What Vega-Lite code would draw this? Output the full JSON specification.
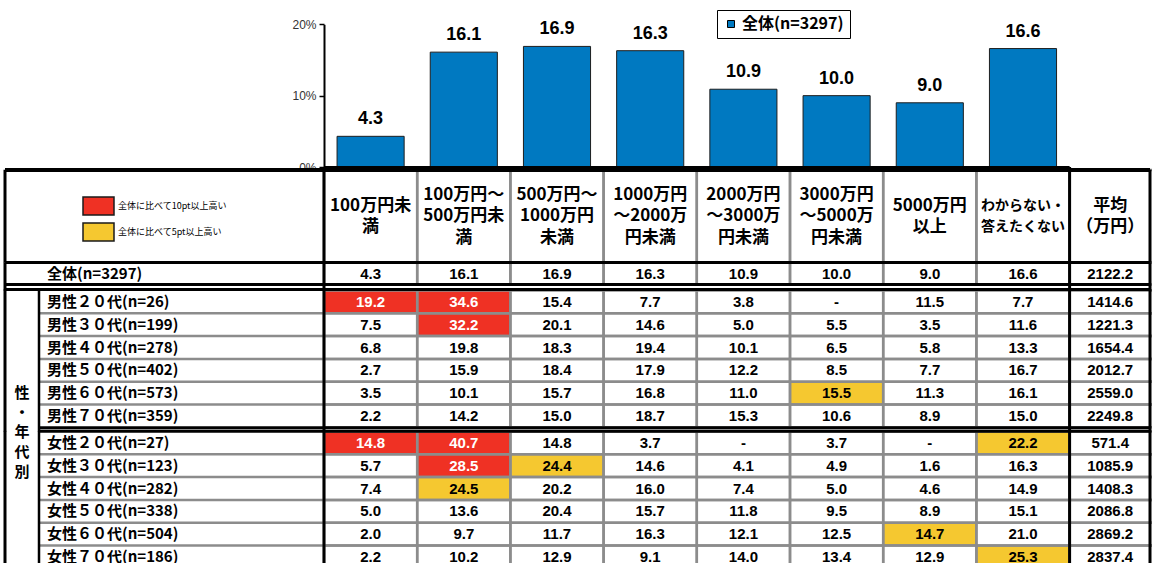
{
  "$schema": "https://vega.github.io/schema/vega-lite/v6.json",
  "width": 1152,
  "height": 563,
  "autosize": "none",
  "padding": 0,
  "background": "white",
  "config": {"view": {"stroke": null}},
  "datasets": {
    "heads": [
      {"c": "100万円未満", "t": ["100万円未", "満"]},
      {"c": "100万円～500万円未満", "t": ["100万円～", "500万円未", "満"]},
      {"c": "500万円～1000万円未満", "t": ["500万円～", "1000万円", "未満"]},
      {"c": "1000万円～2000万円未満", "t": ["1000万円", "～2000万", "円未満"]},
      {"c": "2000万円～3000万円未満", "t": ["2000万円", "～3000万", "円未満"]},
      {"c": "3000万円～5000万円未満", "t": ["3000万円", "～5000万", "円未満"]},
      {"c": "5000万円以上", "t": ["5000万円", "以上"]},
      {"c": "わからない・答えたくない", "t": ["わからない・", "答えたくない"]},
      {"c": "平均（万円）", "t": ["平均", "（万円）"]}
    ],
    "groups": [{"g": "性\n・\n年\n代\n別"}],
    "cells": [
      {"s": "a", "r": "全体(n=3297)", "c": "100万円未満", "v": 4.3},
      {"s": "a", "r": "全体(n=3297)", "c": "100万円～500万円未満", "v": 16.1},
      {"s": "a", "r": "全体(n=3297)", "c": "500万円～1000万円未満", "v": 16.9},
      {"s": "a", "r": "全体(n=3297)", "c": "1000万円～2000万円未満", "v": 16.3},
      {"s": "a", "r": "全体(n=3297)", "c": "2000万円～3000万円未満", "v": 10.9},
      {"s": "a", "r": "全体(n=3297)", "c": "3000万円～5000万円未満", "v": 10.0},
      {"s": "a", "r": "全体(n=3297)", "c": "5000万円以上", "v": 9.0},
      {"s": "a", "r": "全体(n=3297)", "c": "わからない・答えたくない", "v": 16.6},
      {"s": "a", "r": "全体(n=3297)", "c": "平均（万円）", "v": 2122.2},
      {"s": "m", "r": "男性２０代(n=26)", "c": "100万円未満", "v": 19.2, "h": "全体に比べて10pt以上高い"},
      {"s": "m", "r": "男性２０代(n=26)", "c": "100万円～500万円未満", "v": 34.6, "h": "全体に比べて10pt以上高い"},
      {"s": "m", "r": "男性２０代(n=26)", "c": "500万円～1000万円未満", "v": 15.4},
      {"s": "m", "r": "男性２０代(n=26)", "c": "1000万円～2000万円未満", "v": 7.7},
      {"s": "m", "r": "男性２０代(n=26)", "c": "2000万円～3000万円未満", "v": 3.8},
      {"s": "m", "r": "男性２０代(n=26)", "c": "3000万円～5000万円未満", "v": null},
      {"s": "m", "r": "男性２０代(n=26)", "c": "5000万円以上", "v": 11.5},
      {"s": "m", "r": "男性２０代(n=26)", "c": "わからない・答えたくない", "v": 7.7},
      {"s": "m", "r": "男性２０代(n=26)", "c": "平均（万円）", "v": 1414.6},
      {"s": "m", "r": "男性３０代(n=199)", "c": "100万円未満", "v": 7.5},
      {"s": "m", "r": "男性３０代(n=199)", "c": "100万円～500万円未満", "v": 32.2, "h": "全体に比べて10pt以上高い"},
      {"s": "m", "r": "男性３０代(n=199)", "c": "500万円～1000万円未満", "v": 20.1},
      {"s": "m", "r": "男性３０代(n=199)", "c": "1000万円～2000万円未満", "v": 14.6},
      {"s": "m", "r": "男性３０代(n=199)", "c": "2000万円～3000万円未満", "v": 5.0},
      {"s": "m", "r": "男性３０代(n=199)", "c": "3000万円～5000万円未満", "v": 5.5},
      {"s": "m", "r": "男性３０代(n=199)", "c": "5000万円以上", "v": 3.5},
      {"s": "m", "r": "男性３０代(n=199)", "c": "わからない・答えたくない", "v": 11.6},
      {"s": "m", "r": "男性３０代(n=199)", "c": "平均（万円）", "v": 1221.3},
      {"s": "m", "r": "男性４０代(n=278)", "c": "100万円未満", "v": 6.8},
      {"s": "m", "r": "男性４０代(n=278)", "c": "100万円～500万円未満", "v": 19.8},
      {"s": "m", "r": "男性４０代(n=278)", "c": "500万円～1000万円未満", "v": 18.3},
      {"s": "m", "r": "男性４０代(n=278)", "c": "1000万円～2000万円未満", "v": 19.4},
      {"s": "m", "r": "男性４０代(n=278)", "c": "2000万円～3000万円未満", "v": 10.1},
      {"s": "m", "r": "男性４０代(n=278)", "c": "3000万円～5000万円未満", "v": 6.5},
      {"s": "m", "r": "男性４０代(n=278)", "c": "5000万円以上", "v": 5.8},
      {"s": "m", "r": "男性４０代(n=278)", "c": "わからない・答えたくない", "v": 13.3},
      {"s": "m", "r": "男性４０代(n=278)", "c": "平均（万円）", "v": 1654.4},
      {"s": "m", "r": "男性５０代(n=402)", "c": "100万円未満", "v": 2.7},
      {"s": "m", "r": "男性５０代(n=402)", "c": "100万円～500万円未満", "v": 15.9},
      {"s": "m", "r": "男性５０代(n=402)", "c": "500万円～1000万円未満", "v": 18.4},
      {"s": "m", "r": "男性５０代(n=402)", "c": "1000万円～2000万円未満", "v": 17.9},
      {"s": "m", "r": "男性５０代(n=402)", "c": "2000万円～3000万円未満", "v": 12.2},
      {"s": "m", "r": "男性５０代(n=402)", "c": "3000万円～5000万円未満", "v": 8.5},
      {"s": "m", "r": "男性５０代(n=402)", "c": "5000万円以上", "v": 7.7},
      {"s": "m", "r": "男性５０代(n=402)", "c": "わからない・答えたくない", "v": 16.7},
      {"s": "m", "r": "男性５０代(n=402)", "c": "平均（万円）", "v": 2012.7},
      {"s": "m", "r": "男性６０代(n=573)", "c": "100万円未満", "v": 3.5},
      {"s": "m", "r": "男性６０代(n=573)", "c": "100万円～500万円未満", "v": 10.1},
      {"s": "m", "r": "男性６０代(n=573)", "c": "500万円～1000万円未満", "v": 15.7},
      {"s": "m", "r": "男性６０代(n=573)", "c": "1000万円～2000万円未満", "v": 16.8},
      {"s": "m", "r": "男性６０代(n=573)", "c": "2000万円～3000万円未満", "v": 11.0},
      {"s": "m", "r": "男性６０代(n=573)", "c": "3000万円～5000万円未満", "v": 15.5, "h": "全体に比べて5pt以上高い"},
      {"s": "m", "r": "男性６０代(n=573)", "c": "5000万円以上", "v": 11.3},
      {"s": "m", "r": "男性６０代(n=573)", "c": "わからない・答えたくない", "v": 16.1},
      {"s": "m", "r": "男性６０代(n=573)", "c": "平均（万円）", "v": 2559.0},
      {"s": "m", "r": "男性７０代(n=359)", "c": "100万円未満", "v": 2.2},
      {"s": "m", "r": "男性７０代(n=359)", "c": "100万円～500万円未満", "v": 14.2},
      {"s": "m", "r": "男性７０代(n=359)", "c": "500万円～1000万円未満", "v": 15.0},
      {"s": "m", "r": "男性７０代(n=359)", "c": "1000万円～2000万円未満", "v": 18.7},
      {"s": "m", "r": "男性７０代(n=359)", "c": "2000万円～3000万円未満", "v": 15.3},
      {"s": "m", "r": "男性７０代(n=359)", "c": "3000万円～5000万円未満", "v": 10.6},
      {"s": "m", "r": "男性７０代(n=359)", "c": "5000万円以上", "v": 8.9},
      {"s": "m", "r": "男性７０代(n=359)", "c": "わからない・答えたくない", "v": 15.0},
      {"s": "m", "r": "男性７０代(n=359)", "c": "平均（万円）", "v": 2249.8},
      {"s": "f", "r": "女性２０代(n=27)", "c": "100万円未満", "v": 14.8, "h": "全体に比べて10pt以上高い"},
      {"s": "f", "r": "女性２０代(n=27)", "c": "100万円～500万円未満", "v": 40.7, "h": "全体に比べて10pt以上高い"},
      {"s": "f", "r": "女性２０代(n=27)", "c": "500万円～1000万円未満", "v": 14.8},
      {"s": "f", "r": "女性２０代(n=27)", "c": "1000万円～2000万円未満", "v": 3.7},
      {"s": "f", "r": "女性２０代(n=27)", "c": "2000万円～3000万円未満", "v": null},
      {"s": "f", "r": "女性２０代(n=27)", "c": "3000万円～5000万円未満", "v": 3.7},
      {"s": "f", "r": "女性２０代(n=27)", "c": "5000万円以上", "v": null},
      {"s": "f", "r": "女性２０代(n=27)", "c": "わからない・答えたくない", "v": 22.2, "h": "全体に比べて5pt以上高い"},
      {"s": "f", "r": "女性２０代(n=27)", "c": "平均（万円）", "v": 571.4},
      {"s": "f", "r": "女性３０代(n=123)", "c": "100万円未満", "v": 5.7},
      {"s": "f", "r": "女性３０代(n=123)", "c": "100万円～500万円未満", "v": 28.5, "h": "全体に比べて10pt以上高い"},
      {"s": "f", "r": "女性３０代(n=123)", "c": "500万円～1000万円未満", "v": 24.4, "h": "全体に比べて5pt以上高い"},
      {"s": "f", "r": "女性３０代(n=123)", "c": "1000万円～2000万円未満", "v": 14.6},
      {"s": "f", "r": "女性３０代(n=123)", "c": "2000万円～3000万円未満", "v": 4.1},
      {"s": "f", "r": "女性３０代(n=123)", "c": "3000万円～5000万円未満", "v": 4.9},
      {"s": "f", "r": "女性３０代(n=123)", "c": "5000万円以上", "v": 1.6},
      {"s": "f", "r": "女性３０代(n=123)", "c": "わからない・答えたくない", "v": 16.3},
      {"s": "f", "r": "女性３０代(n=123)", "c": "平均（万円）", "v": 1085.9},
      {"s": "f", "r": "女性４０代(n=282)", "c": "100万円未満", "v": 7.4},
      {"s": "f", "r": "女性４０代(n=282)", "c": "100万円～500万円未満", "v": 24.5, "h": "全体に比べて5pt以上高い"},
      {"s": "f", "r": "女性４０代(n=282)", "c": "500万円～1000万円未満", "v": 20.2},
      {"s": "f", "r": "女性４０代(n=282)", "c": "1000万円～2000万円未満", "v": 16.0},
      {"s": "f", "r": "女性４０代(n=282)", "c": "2000万円～3000万円未満", "v": 7.4},
      {"s": "f", "r": "女性４０代(n=282)", "c": "3000万円～5000万円未満", "v": 5.0},
      {"s": "f", "r": "女性４０代(n=282)", "c": "5000万円以上", "v": 4.6},
      {"s": "f", "r": "女性４０代(n=282)", "c": "わからない・答えたくない", "v": 14.9},
      {"s": "f", "r": "女性４０代(n=282)", "c": "平均（万円）", "v": 1408.3},
      {"s": "f", "r": "女性５０代(n=338)", "c": "100万円未満", "v": 5.0},
      {"s": "f", "r": "女性５０代(n=338)", "c": "100万円～500万円未満", "v": 13.6},
      {"s": "f", "r": "女性５０代(n=338)", "c": "500万円～1000万円未満", "v": 20.4},
      {"s": "f", "r": "女性５０代(n=338)", "c": "1000万円～2000万円未満", "v": 15.7},
      {"s": "f", "r": "女性５０代(n=338)", "c": "2000万円～3000万円未満", "v": 11.8},
      {"s": "f", "r": "女性５０代(n=338)", "c": "3000万円～5000万円未満", "v": 9.5},
      {"s": "f", "r": "女性５０代(n=338)", "c": "5000万円以上", "v": 8.9},
      {"s": "f", "r": "女性５０代(n=338)", "c": "わからない・答えたくない", "v": 15.1},
      {"s": "f", "r": "女性５０代(n=338)", "c": "平均（万円）", "v": 2086.8},
      {"s": "f", "r": "女性６０代(n=504)", "c": "100万円未満", "v": 2.0},
      {"s": "f", "r": "女性６０代(n=504)", "c": "100万円～500万円未満", "v": 9.7},
      {"s": "f", "r": "女性６０代(n=504)", "c": "500万円～1000万円未満", "v": 11.7},
      {"s": "f", "r": "女性６０代(n=504)", "c": "1000万円～2000万円未満", "v": 16.3},
      {"s": "f", "r": "女性６０代(n=504)", "c": "2000万円～3000万円未満", "v": 12.1},
      {"s": "f", "r": "女性６０代(n=504)", "c": "3000万円～5000万円未満", "v": 12.5},
      {"s": "f", "r": "女性６０代(n=504)", "c": "5000万円以上", "v": 14.7, "h": "全体に比べて5pt以上高い"},
      {"s": "f", "r": "女性６０代(n=504)", "c": "わからない・答えたくない", "v": 21.0},
      {"s": "f", "r": "女性６０代(n=504)", "c": "平均（万円）", "v": 2869.2},
      {"s": "f", "r": "女性７０代(n=186)", "c": "100万円未満", "v": 2.2},
      {"s": "f", "r": "女性７０代(n=186)", "c": "100万円～500万円未満", "v": 10.2},
      {"s": "f", "r": "女性７０代(n=186)", "c": "500万円～1000万円未満", "v": 12.9},
      {"s": "f", "r": "女性７０代(n=186)", "c": "1000万円～2000万円未満", "v": 9.1},
      {"s": "f", "r": "女性７０代(n=186)", "c": "2000万円～3000万円未満", "v": 14.0},
      {"s": "f", "r": "女性７０代(n=186)", "c": "3000万円～5000万円未満", "v": 13.4},
      {"s": "f", "r": "女性７０代(n=186)", "c": "5000万円以上", "v": 12.9},
      {"s": "f", "r": "女性７０代(n=186)", "c": "わからない・答えたくない", "v": 25.3, "h": "全体に比べて5pt以上高い"},
      {"s": "f", "r": "女性７０代(n=186)", "c": "平均（万円）", "v": 2837.4}
    ]
  },
  "resolve": {"scale": {"y": "independent"}},
  "layer": [
    {
      "data": {"name": "cells"},
      "transform": [{"filter": "datum.s === 'a' && datum.c !== '平均（万円）'"}],
      "encoding": {
        "x": {"field": "c", "type": "nominal", "axis": null, "scale": {"domain": ["100万円未満", "100万円～500万円未満", "500万円～1000万円未満", "1000万円～2000万円未満", "2000万円～3000万円未満", "3000万円～5000万円未満", "5000万円以上", "わからない・答えたくない", "平均（万円）"], "range": [324, 1162.8], "paddingInner": 0, "paddingOuter": 0}},
        "y": {"field": "v", "type": "quantitative", "scale": {"domain": [0, 20], "range": [167, 24.3], "nice": false, "zero": false},
          "axis": {"orient": "left", "offset": -324, "values": [0, 10, 20], "labelExpr": "datum.value + '%'", "domainColor": "black", "domainWidth": 2, "tickColor": "black", "tickWidth": 1.5, "tickSize": 5, "labelFont": "Liberation Sans", "labelFontSize": 12, "labelColor": "#333333", "labelPadding": 3, "grid": false, "title": null, "labelBound": false, "labelFlush": false, "labelOverlap": false}}
      },
      "layer": [
        {
          "mark": {"type": "bar", "width": {"band": 0.72}, "stroke": "#1e1e1e", "strokeWidth": 1},
          "encoding": {
            "color": {"field": "r", "type": "nominal", "scale": {"range": ["#0079c1"]},
              "legend": {"orient": "none", "legendX": 717, "legendY": 10, "title": null, "padding": 6, "strokeColor": "black", "symbolType": "square", "symbolSize": 49, "symbolStrokeColor": "black", "symbolStrokeWidth": 1, "labelFont": "Noto Sans CJK JP", "labelFontSize": 16, "labelFontWeight": "bold", "labelColor": "black", "labelOffset": 3}}
          }
        },
        {
          "mark": {"type": "text", "font": "Liberation Sans", "fontSize": 18, "fontWeight": "bold", "baseline": "middle", "dy": -17, "color": "black"},
          "encoding": {"text": {"field": "v", "type": "quantitative", "format": ".1f"}}
        }
      ]
    },
    {
      "data": {"name": "heads"},
      "mark": {"type": "rect", "filled": false, "stroke": "#8c8c8c", "strokeWidth": 2.5},
      "encoding": {
        "x": {"field": "c", "type": "nominal", "axis": null, "scale": {"domain": ["100万円未満", "100万円～500万円未満", "500万円～1000万円未満", "1000万円～2000万円未満", "2000万円～3000万円未満", "3000万円～5000万円未満", "5000万円以上", "わからない・答えたくない", "平均（万円）"], "range": [324, 1162.8], "paddingInner": 0, "paddingOuter": 0}},
        "y": {"datum": "head", "type": "nominal", "axis": null, "scale": {"domain": ["head"], "range": [170, 262.5], "paddingInner": 0, "paddingOuter": 0}}
      }
    },
    {
      "data": {"name": "cells"},
      "transform": [{"filter": "datum.s === 'a'"}],
      "mark": {"type": "rect", "filled": false, "stroke": "#8c8c8c", "strokeWidth": 2.5},
      "encoding": {
        "x": {"field": "c", "type": "nominal", "axis": null, "scale": {"domain": ["100万円未満", "100万円～500万円未満", "500万円～1000万円未満", "1000万円～2000万円未満", "2000万円～3000万円未満", "3000万円～5000万円未満", "5000万円以上", "わからない・答えたくない", "平均（万円）"], "range": [324, 1162.8], "paddingInner": 0, "paddingOuter": 0}},
        "y": {"field": "r", "type": "nominal", "axis": null, "scale": {"domain": ["全体(n=3297)"], "range": [262.5, 284.5], "paddingInner": 0, "paddingOuter": 0}}
      }
    },
    {
      "data": {"name": "cells"},
      "transform": [{"filter": "datum.s === 'm' && datum.h"}],
      "mark": {"type": "rect"},
      "encoding": {
        "x": {"field": "c", "type": "nominal", "axis": null, "scale": {"domain": ["100万円未満", "100万円～500万円未満", "500万円～1000万円未満", "1000万円～2000万円未満", "2000万円～3000万円未満", "3000万円～5000万円未満", "5000万円以上", "わからない・答えたくない", "平均（万円）"], "range": [324, 1162.8], "paddingInner": 0, "paddingOuter": 0}},
        "y": {"field": "r", "type": "nominal", "axis": null, "scale": {"domain": ["男性２０代(n=26)", "男性３０代(n=199)", "男性４０代(n=278)", "男性５０代(n=402)", "男性６０代(n=573)", "男性７０代(n=359)"], "range": [290.5, 427.3], "paddingInner": 0, "paddingOuter": 0}},
        "fill": {"field": "h", "type": "nominal", "scale": {"domain": ["全体に比べて10pt以上高い", "全体に比べて5pt以上高い"], "range": ["#ef3124", "#f5c830"]},
          "legend": {"orient": "none", "legendX": 82, "legendY": 196, "title": null, "padding": 0, "symbolType": "M-1,-0.58H1V0.58H-1Z", "symbolSize": 961, "symbolStrokeColor": "#1a1a1a", "symbolStrokeWidth": 1.5, "symbolOpacity": 1, "labelFont": "Noto Sans CJK JP", "labelFontSize": 9, "labelColor": "black", "labelOffset": 3, "clipHeight": 20, "rowPadding": 6, "labelLimit": 200}}
      }
    },
    {
      "data": {"name": "cells"},
      "transform": [{"filter": "datum.s === 'm'"}],
      "mark": {"type": "rect", "filled": false, "stroke": "#8c8c8c", "strokeWidth": 2.5},
      "encoding": {
        "x": {"field": "c", "type": "nominal", "axis": null, "scale": {"domain": ["100万円未満", "100万円～500万円未満", "500万円～1000万円未満", "1000万円～2000万円未満", "2000万円～3000万円未満", "3000万円～5000万円未満", "5000万円以上", "わからない・答えたくない", "平均（万円）"], "range": [324, 1162.8], "paddingInner": 0, "paddingOuter": 0}},
        "y": {"field": "r", "type": "nominal", "axis": null, "scale": {"domain": ["男性２０代(n=26)", "男性３０代(n=199)", "男性４０代(n=278)", "男性５０代(n=402)", "男性６０代(n=573)", "男性７０代(n=359)"], "range": [290.5, 427.3], "paddingInner": 0, "paddingOuter": 0}}
      }
    },
    {
      "data": {"name": "cells"},
      "transform": [{"filter": "datum.s === 'f' && datum.h"}],
      "mark": {"type": "rect"},
      "encoding": {
        "x": {"field": "c", "type": "nominal", "axis": null, "scale": {"domain": ["100万円未満", "100万円～500万円未満", "500万円～1000万円未満", "1000万円～2000万円未満", "2000万円～3000万円未満", "3000万円～5000万円未満", "5000万円以上", "わからない・答えたくない", "平均（万円）"], "range": [324, 1162.8], "paddingInner": 0, "paddingOuter": 0}},
        "y": {"field": "r", "type": "nominal", "axis": null, "scale": {"domain": ["女性２０代(n=27)", "女性３０代(n=123)", "女性４０代(n=282)", "女性５０代(n=338)", "女性６０代(n=504)", "女性７０代(n=186)"], "range": [431.5, 568.3], "paddingInner": 0, "paddingOuter": 0}},
        "fill": {"field": "h", "type": "nominal", "scale": {"domain": ["全体に比べて10pt以上高い", "全体に比べて5pt以上高い"], "range": ["#ef3124", "#f5c830"]},
          "legend": {"orient": "none", "legendX": 82, "legendY": 196, "title": null, "padding": 0, "symbolType": "M-1,-0.58H1V0.58H-1Z", "symbolSize": 961, "symbolStrokeColor": "#1a1a1a", "symbolStrokeWidth": 1.5, "symbolOpacity": 1, "labelFont": "Noto Sans CJK JP", "labelFontSize": 9, "labelColor": "black", "labelOffset": 3, "clipHeight": 20, "rowPadding": 6, "labelLimit": 200}}
      }
    },
    {
      "data": {"name": "cells"},
      "transform": [{"filter": "datum.s === 'f'"}],
      "mark": {"type": "rect", "filled": false, "stroke": "#8c8c8c", "strokeWidth": 2.5},
      "encoding": {
        "x": {"field": "c", "type": "nominal", "axis": null, "scale": {"domain": ["100万円未満", "100万円～500万円未満", "500万円～1000万円未満", "1000万円～2000万円未満", "2000万円～3000万円未満", "3000万円～5000万円未満", "5000万円以上", "わからない・答えたくない", "平均（万円）"], "range": [324, 1162.8], "paddingInner": 0, "paddingOuter": 0}},
        "y": {"field": "r", "type": "nominal", "axis": null, "scale": {"domain": ["女性２０代(n=27)", "女性３０代(n=123)", "女性４０代(n=282)", "女性５０代(n=338)", "女性６０代(n=504)", "女性７０代(n=186)"], "range": [431.5, 568.3], "paddingInner": 0, "paddingOuter": 0}}
      }
    },
    {
      "data": {"name": "cells"},
      "transform": [{"filter": "datum.s === 'm' && datum.c === '100万円未満' && datum.r !== '男性７０代(n=359)'"}],
      "mark": {"type": "tick", "orient": "horizontal", "size": 285, "thickness": 2.5, "color": "#8c8c8c", "opacity": 1, "xOffset": -189.1},
      "encoding": {
        "x": {"datum": "100万円未満", "type": "nominal", "bandPosition": 0.5, "axis": null},
        "y": {"field": "r", "type": "nominal", "bandPosition": 1, "axis": null, "scale": {"domain": ["男性２０代(n=26)", "男性３０代(n=199)", "男性４０代(n=278)", "男性５０代(n=402)", "男性６０代(n=573)", "男性７０代(n=359)"], "range": [290.5, 427.3], "paddingInner": 0, "paddingOuter": 0}}
      }
    },
    {
      "data": {"name": "cells"},
      "transform": [{"filter": "datum.s === 'f' && datum.c === '100万円未満' && datum.r !== '女性７０代(n=186)'"}],
      "mark": {"type": "tick", "orient": "horizontal", "size": 285, "thickness": 2.5, "color": "#8c8c8c", "opacity": 1, "xOffset": -189.1},
      "encoding": {
        "x": {"datum": "100万円未満", "type": "nominal", "bandPosition": 0.5, "axis": null},
        "y": {"field": "r", "type": "nominal", "bandPosition": 1, "axis": null, "scale": {"domain": ["女性２０代(n=27)", "女性３０代(n=123)", "女性４０代(n=282)", "女性５０代(n=338)", "女性６０代(n=504)", "女性７０代(n=186)"], "range": [431.5, 568.3], "paddingInner": 0, "paddingOuter": 0}}
      }
    },
    {
      "data": {"name": "heads"},
      "transform": [{"filter": "datum.c === '100万円未満'"}],
      "mark": {"type": "tick", "orient": "horizontal", "size": 745.6, "thickness": 3, "color": "black", "opacity": 1, "xOffset": -46.6, "yOffset": 0.5},
      "encoding": {
        "x": {"datum": "2000万円～3000万円未満", "type": "nominal", "bandPosition": 0.5, "axis": null},
        "y": {"datum": 0, "type": "quantitative", "axis": null, "scale": {"domain": [0, 20], "range": [167, 24.3], "nice": false, "zero": false}}
      }
    },
    {
      "data": {"name": "heads"},
      "transform": [{"filter": "datum.c === '100万円未満'"}],
      "mark": {"type": "tick", "orient": "horizontal", "size": 1145, "thickness": 4, "color": "black", "opacity": 1, "xOffset": 206.9},
      "encoding": {
        "x": {"datum": "100万円未満", "type": "nominal", "bandPosition": 0.5, "axis": null},
        "y": {"datum": "head", "type": "nominal", "bandPosition": 0, "axis": null, "scale": {"domain": ["head"], "range": [170, 262.5], "paddingInner": 0, "paddingOuter": 0}}
      }
    },
    {
      "data": {"name": "heads"},
      "transform": [{"filter": "datum.c === '100万円未満'"}],
      "mark": {"type": "tick", "orient": "horizontal", "size": 1145, "thickness": 3, "color": "black", "opacity": 1, "xOffset": 206.9},
      "encoding": {
        "x": {"datum": "100万円未満", "type": "nominal", "bandPosition": 0.5, "axis": null},
        "y": {"datum": "head", "type": "nominal", "bandPosition": 1, "axis": null, "scale": {"domain": ["head"], "range": [170, 262.5], "paddingInner": 0, "paddingOuter": 0}}
      }
    },
    {
      "data": {"name": "heads"},
      "transform": [{"filter": "datum.c === '100万円未満'"}],
      "mark": {"type": "tick", "orient": "horizontal", "size": 1145, "thickness": 3, "color": "black", "opacity": 1, "xOffset": 206.9},
      "encoding": {
        "x": {"datum": "100万円未満", "type": "nominal", "bandPosition": 0.5, "axis": null},
        "y": {"datum": "全体(n=3297)", "type": "nominal", "bandPosition": 1, "axis": null, "scale": {"domain": ["全体(n=3297)"], "range": [262.5, 284.5], "paddingInner": 0, "paddingOuter": 0}}
      }
    },
    {
      "data": {"name": "heads"},
      "transform": [{"filter": "datum.c === '100万円未満'"}],
      "mark": {"type": "tick", "orient": "horizontal", "size": 1145, "thickness": 3, "color": "black", "opacity": 1, "xOffset": 206.9, "yOffset": -1},
      "encoding": {
        "x": {"datum": "100万円未満", "type": "nominal", "bandPosition": 0.5, "axis": null},
        "y": {"datum": "男性２０代(n=26)", "type": "nominal", "bandPosition": 0, "axis": null, "scale": {"domain": ["男性２０代(n=26)", "男性３０代(n=199)", "男性４０代(n=278)", "男性５０代(n=402)", "男性６０代(n=573)", "男性７０代(n=359)"], "range": [290.5, 427.3], "paddingInner": 0, "paddingOuter": 0}}
      }
    },
    {
      "data": {"name": "heads"},
      "transform": [{"filter": "datum.c === '100万円未満'"}],
      "mark": {"type": "tick", "orient": "horizontal", "size": 1111, "thickness": 3, "color": "black", "opacity": 1, "xOffset": 223.9, "yOffset": 0.5},
      "encoding": {
        "x": {"datum": "100万円未満", "type": "nominal", "bandPosition": 0.5, "axis": null},
        "y": {"datum": "男性７０代(n=359)", "type": "nominal", "bandPosition": 1, "axis": null, "scale": {"domain": ["男性２０代(n=26)", "男性３０代(n=199)", "男性４０代(n=278)", "男性５０代(n=402)", "男性６０代(n=573)", "男性７０代(n=359)"], "range": [290.5, 427.3], "paddingInner": 0, "paddingOuter": 0}}
      }
    },
    {
      "data": {"name": "heads"},
      "transform": [{"filter": "datum.c === '100万円未満'"}],
      "mark": {"type": "tick", "orient": "horizontal", "size": 1111, "thickness": 3, "color": "black", "opacity": 1, "xOffset": 223.9, "yOffset": -0.3},
      "encoding": {
        "x": {"datum": "100万円未満", "type": "nominal", "bandPosition": 0.5, "axis": null},
        "y": {"datum": "女性２０代(n=27)", "type": "nominal", "bandPosition": 0, "axis": null, "scale": {"domain": ["女性２０代(n=27)", "女性３０代(n=123)", "女性４０代(n=282)", "女性５０代(n=338)", "女性６０代(n=504)", "女性７０代(n=186)"], "range": [431.5, 568.3], "paddingInner": 0, "paddingOuter": 0}}
      }
    },
    {
      "data": {"name": "heads"},
      "transform": [{"filter": "datum.c === '100万円未満' || datum.c === '平均（万円）'"}],
      "mark": {"type": "tick", "orient": "vertical", "size": 95.5, "thickness": 3, "color": "black", "opacity": 1, "yOffset": -1.5},
      "encoding": {
        "x": {"field": "c", "type": "nominal", "bandPosition": 0, "axis": null, "scale": {"domain": ["100万円未満", "100万円～500万円未満", "500万円～1000万円未満", "1000万円～2000万円未満", "2000万円～3000万円未満", "3000万円～5000万円未満", "5000万円以上", "わからない・答えたくない", "平均（万円）"], "range": [324, 1162.8], "paddingInner": 0, "paddingOuter": 0}},
        "y": {"datum": "head", "type": "nominal", "bandPosition": 0.5, "axis": null, "scale": {"domain": ["head"], "range": [170, 262.5], "paddingInner": 0, "paddingOuter": 0}}
      }
    },
    {
      "data": {"name": "heads"},
      "transform": [{"filter": "datum.c === '100万円未満'"}],
      "mark": {"type": "tick", "orient": "vertical", "size": 93, "thickness": 3, "color": "black", "opacity": 1, "xOffset": -365.6},
      "encoding": {
        "x": {"datum": "100万円未満", "type": "nominal", "bandPosition": 0.5, "axis": null},
        "y": {"datum": "head", "type": "nominal", "bandPosition": 0.5, "axis": null, "scale": {"domain": ["head"], "range": [170, 262.5], "paddingInner": 0, "paddingOuter": 0}}
      }
    },
    {
      "data": {"name": "heads"},
      "transform": [{"filter": "datum.c === '100万円未満'"}],
      "mark": {"type": "tick", "orient": "vertical", "size": 93, "thickness": 3, "color": "black", "opacity": 1, "xOffset": 33.8},
      "encoding": {
        "x": {"datum": "平均（万円）", "type": "nominal", "bandPosition": 0.5, "axis": null},
        "y": {"datum": "head", "type": "nominal", "bandPosition": 0.5, "axis": null, "scale": {"domain": ["head"], "range": [170, 262.5], "paddingInner": 0, "paddingOuter": 0}}
      }
    },
    {
      "data": {"name": "heads"},
      "transform": [{"filter": "datum.c === '100万円未満' || datum.c === '平均（万円）'"}],
      "mark": {"type": "tick", "orient": "vertical", "size": 28, "thickness": 3, "color": "black", "opacity": 1, "yOffset": 3},
      "encoding": {
        "x": {"field": "c", "type": "nominal", "bandPosition": 0, "axis": null, "scale": {"domain": ["100万円未満", "100万円～500万円未満", "500万円～1000万円未満", "1000万円～2000万円未満", "2000万円～3000万円未満", "3000万円～5000万円未満", "5000万円以上", "わからない・答えたくない", "平均（万円）"], "range": [324, 1162.8], "paddingInner": 0, "paddingOuter": 0}},
        "y": {"datum": "全体(n=3297)", "type": "nominal", "bandPosition": 0.5, "axis": null, "scale": {"domain": ["全体(n=3297)"], "range": [262.5, 284.5], "paddingInner": 0, "paddingOuter": 0}}
      }
    },
    {
      "data": {"name": "heads"},
      "transform": [{"filter": "datum.c === '100万円未満'"}],
      "mark": {"type": "tick", "orient": "vertical", "size": 28, "thickness": 3, "color": "black", "opacity": 1, "yOffset": 3, "xOffset": -365.6},
      "encoding": {
        "x": {"datum": "100万円未満", "type": "nominal", "bandPosition": 0.5, "axis": null},
        "y": {"datum": "全体(n=3297)", "type": "nominal", "bandPosition": 0.5, "axis": null, "scale": {"domain": ["全体(n=3297)"], "range": [262.5, 284.5], "paddingInner": 0, "paddingOuter": 0}}
      }
    },
    {
      "data": {"name": "heads"},
      "transform": [{"filter": "datum.c === '100万円未満'"}],
      "mark": {"type": "tick", "orient": "vertical", "size": 28, "thickness": 3, "color": "black", "opacity": 1, "yOffset": 3, "xOffset": 33.8},
      "encoding": {
        "x": {"datum": "平均（万円）", "type": "nominal", "bandPosition": 0.5, "axis": null},
        "y": {"datum": "全体(n=3297)", "type": "nominal", "bandPosition": 0.5, "axis": null, "scale": {"domain": ["全体(n=3297)"], "range": [262.5, 284.5], "paddingInner": 0, "paddingOuter": 0}}
      }
    },
    {
      "data": {"name": "heads"},
      "transform": [{"filter": "datum.c === '100万円未満' || datum.c === '平均（万円）'"}],
      "mark": {"type": "tick", "orient": "vertical", "size": 142, "thickness": 3, "color": "black", "opacity": 1, "yOffset": 13},
      "encoding": {
        "x": {"field": "c", "type": "nominal", "bandPosition": 0, "axis": null, "scale": {"domain": ["100万円未満", "100万円～500万円未満", "500万円～1000万円未満", "1000万円～2000万円未満", "2000万円～3000万円未満", "3000万円～5000万円未満", "5000万円以上", "わからない・答えたくない", "平均（万円）"], "range": [324, 1162.8], "paddingInner": 0, "paddingOuter": 0}},
        "y": {"datum": "男性４０代(n=278)", "type": "nominal", "bandPosition": 0.5, "axis": null, "scale": {"domain": ["男性２０代(n=26)", "男性３０代(n=199)", "男性４０代(n=278)", "男性５０代(n=402)", "男性６０代(n=573)", "男性７０代(n=359)"], "range": [290.5, 427.3], "paddingInner": 0, "paddingOuter": 0}}
      }
    },
    {
      "data": {"name": "heads"},
      "transform": [{"filter": "datum.c === '100万円未満'"}],
      "mark": {"type": "tick", "orient": "vertical", "size": 142, "thickness": 3, "color": "black", "opacity": 1, "yOffset": 13, "xOffset": -365.6},
      "encoding": {
        "x": {"datum": "100万円未満", "type": "nominal", "bandPosition": 0.5, "axis": null},
        "y": {"datum": "男性４０代(n=278)", "type": "nominal", "bandPosition": 0.5, "axis": null, "scale": {"domain": ["男性２０代(n=26)", "男性３０代(n=199)", "男性４０代(n=278)", "男性５０代(n=402)", "男性６０代(n=573)", "男性７０代(n=359)"], "range": [290.5, 427.3], "paddingInner": 0, "paddingOuter": 0}}
      }
    },
    {
      "data": {"name": "heads"},
      "transform": [{"filter": "datum.c === '100万円未満'"}],
      "mark": {"type": "tick", "orient": "vertical", "size": 142, "thickness": 2.5, "color": "black", "opacity": 1, "yOffset": 13, "xOffset": -331.6},
      "encoding": {
        "x": {"datum": "100万円未満", "type": "nominal", "bandPosition": 0.5, "axis": null},
        "y": {"datum": "男性４０代(n=278)", "type": "nominal", "bandPosition": 0.5, "axis": null, "scale": {"domain": ["男性２０代(n=26)", "男性３０代(n=199)", "男性４０代(n=278)", "男性５０代(n=402)", "男性６０代(n=573)", "男性７０代(n=359)"], "range": [290.5, 427.3], "paddingInner": 0, "paddingOuter": 0}}
      }
    },
    {
      "data": {"name": "heads"},
      "transform": [{"filter": "datum.c === '100万円未満'"}],
      "mark": {"type": "tick", "orient": "vertical", "size": 142, "thickness": 3, "color": "black", "opacity": 1, "yOffset": 13, "xOffset": 33.8},
      "encoding": {
        "x": {"datum": "平均（万円）", "type": "nominal", "bandPosition": 0.5, "axis": null},
        "y": {"datum": "男性４０代(n=278)", "type": "nominal", "bandPosition": 0.5, "axis": null, "scale": {"domain": ["男性２０代(n=26)", "男性３０代(n=199)", "男性４０代(n=278)", "男性５０代(n=402)", "男性６０代(n=573)", "男性７０代(n=359)"], "range": [290.5, 427.3], "paddingInner": 0, "paddingOuter": 0}}
      }
    },
    {
      "data": {"name": "heads"},
      "transform": [{"filter": "datum.c === '100万円未満' || datum.c === '平均（万円）'"}],
      "mark": {"type": "tick", "orient": "vertical", "size": 138, "thickness": 3, "color": "black", "opacity": 1, "yOffset": 11.4},
      "encoding": {
        "x": {"field": "c", "type": "nominal", "bandPosition": 0, "axis": null, "scale": {"domain": ["100万円未満", "100万円～500万円未満", "500万円～1000万円未満", "1000万円～2000万円未満", "2000万円～3000万円未満", "3000万円～5000万円未満", "5000万円以上", "わからない・答えたくない", "平均（万円）"], "range": [324, 1162.8], "paddingInner": 0, "paddingOuter": 0}},
        "y": {"datum": "女性４０代(n=282)", "type": "nominal", "bandPosition": 0.5, "axis": null, "scale": {"domain": ["女性２０代(n=27)", "女性３０代(n=123)", "女性４０代(n=282)", "女性５０代(n=338)", "女性６０代(n=504)", "女性７０代(n=186)"], "range": [431.5, 568.3], "paddingInner": 0, "paddingOuter": 0}}
      }
    },
    {
      "data": {"name": "heads"},
      "transform": [{"filter": "datum.c === '100万円未満'"}],
      "mark": {"type": "tick", "orient": "vertical", "size": 138, "thickness": 3, "color": "black", "opacity": 1, "yOffset": 11.4, "xOffset": -365.6},
      "encoding": {
        "x": {"datum": "100万円未満", "type": "nominal", "bandPosition": 0.5, "axis": null},
        "y": {"datum": "女性４０代(n=282)", "type": "nominal", "bandPosition": 0.5, "axis": null, "scale": {"domain": ["女性２０代(n=27)", "女性３０代(n=123)", "女性４０代(n=282)", "女性５０代(n=338)", "女性６０代(n=504)", "女性７０代(n=186)"], "range": [431.5, 568.3], "paddingInner": 0, "paddingOuter": 0}}
      }
    },
    {
      "data": {"name": "heads"},
      "transform": [{"filter": "datum.c === '100万円未満'"}],
      "mark": {"type": "tick", "orient": "vertical", "size": 138, "thickness": 2.5, "color": "black", "opacity": 1, "yOffset": 11.4, "xOffset": -331.6},
      "encoding": {
        "x": {"datum": "100万円未満", "type": "nominal", "bandPosition": 0.5, "axis": null},
        "y": {"datum": "女性４０代(n=282)", "type": "nominal", "bandPosition": 0.5, "axis": null, "scale": {"domain": ["女性２０代(n=27)", "女性３０代(n=123)", "女性４０代(n=282)", "女性５０代(n=338)", "女性６０代(n=504)", "女性７０代(n=186)"], "range": [431.5, 568.3], "paddingInner": 0, "paddingOuter": 0}}
      }
    },
    {
      "data": {"name": "heads"},
      "transform": [{"filter": "datum.c === '100万円未満'"}],
      "mark": {"type": "tick", "orient": "vertical", "size": 138, "thickness": 3, "color": "black", "opacity": 1, "yOffset": 11.4, "xOffset": 33.8},
      "encoding": {
        "x": {"datum": "平均（万円）", "type": "nominal", "bandPosition": 0.5, "axis": null},
        "y": {"datum": "女性４０代(n=282)", "type": "nominal", "bandPosition": 0.5, "axis": null, "scale": {"domain": ["女性２０代(n=27)", "女性３０代(n=123)", "女性４０代(n=282)", "女性５０代(n=338)", "女性６０代(n=504)", "女性７０代(n=186)"], "range": [431.5, 568.3], "paddingInner": 0, "paddingOuter": 0}}
      }
    },
    {
      "data": {"name": "heads"},
      "transform": [{"filter": "length(datum.t) === 3"}],
      "mark": {"type": "text", "font": "Noto Sans CJK JP", "fontWeight": "bold", "fontSize": 17, "lineHeight": 21.5, "baseline": "middle", "align": "center", "dy": -21.5, "color": "black"},
      "encoding": {
        "x": {"field": "c", "type": "nominal", "axis": null, "scale": {"domain": ["100万円未満", "100万円～500万円未満", "500万円～1000万円未満", "1000万円～2000万円未満", "2000万円～3000万円未満", "3000万円～5000万円未満", "5000万円以上", "わからない・答えたくない", "平均（万円）"], "range": [324, 1162.8], "paddingInner": 0, "paddingOuter": 0}},
        "y": {"datum": "head", "type": "nominal", "axis": null, "scale": {"domain": ["head"], "range": [170, 262.5], "paddingInner": 0, "paddingOuter": 0}},
        "text": {"field": "t"}
      }
    },
    {
      "data": {"name": "heads"},
      "transform": [{"filter": "length(datum.t) === 2 && datum.c !== '平均（万円）'"}],
      "mark": {"type": "text", "font": "Noto Sans CJK JP", "fontWeight": "bold", "lineHeight": 21.5, "baseline": "middle", "align": "center", "dy": -10.75, "color": "black"},
      "encoding": {
        "x": {"field": "c", "type": "nominal", "axis": null, "scale": {"domain": ["100万円未満", "100万円～500万円未満", "500万円～1000万円未満", "1000万円～2000万円未満", "2000万円～3000万円未満", "3000万円～5000万円未満", "5000万円以上", "わからない・答えたくない", "平均（万円）"], "range": [324, 1162.8], "paddingInner": 0, "paddingOuter": 0}},
        "y": {"datum": "head", "type": "nominal", "axis": null, "scale": {"domain": ["head"], "range": [170, 262.5], "paddingInner": 0, "paddingOuter": 0}},
        "text": {"field": "t"},
        "size": {"condition": {"test": "datum.c === 'わからない・答えたくない'", "value": 14}, "value": 17}
      }
    },
    {
      "data": {"name": "heads"},
      "transform": [{"filter": "datum.c === '平均（万円）'"}],
      "mark": {"type": "text", "font": "Noto Sans CJK JP", "fontWeight": "bold", "fontSize": 17, "lineHeight": 21.5, "baseline": "middle", "align": "center", "dy": -10.75, "dx": -6, "color": "black"},
      "encoding": {
        "x": {"field": "c", "type": "nominal", "axis": null, "scale": {"domain": ["100万円未満", "100万円～500万円未満", "500万円～1000万円未満", "1000万円～2000万円未満", "2000万円～3000万円未満", "3000万円～5000万円未満", "5000万円以上", "わからない・答えたくない", "平均（万円）"], "range": [324, 1162.8], "paddingInner": 0, "paddingOuter": 0}},
        "y": {"datum": "head", "type": "nominal", "axis": null, "scale": {"domain": ["head"], "range": [170, 262.5], "paddingInner": 0, "paddingOuter": 0}},
        "text": {"field": "t"}
      }
    },
    {
      "data": {"name": "cells"},
      "transform": [{"filter": "datum.s === 'a' && datum.c !== '平均（万円）'"}],
      "mark": {"type": "text", "font": "Liberation Sans", "fontSize": 15, "fontWeight": "bold", "baseline": "middle", "color": "black"},
      "encoding": {
        "x": {"field": "c", "type": "nominal", "axis": null, "scale": {"domain": ["100万円未満", "100万円～500万円未満", "500万円～1000万円未満", "1000万円～2000万円未満", "2000万円～3000万円未満", "3000万円～5000万円未満", "5000万円以上", "わからない・答えたくない", "平均（万円）"], "range": [324, 1162.8], "paddingInner": 0, "paddingOuter": 0}},
        "y": {"field": "r", "type": "nominal", "axis": null, "scale": {"domain": ["全体(n=3297)"], "range": [262.5, 284.5], "paddingInner": 0, "paddingOuter": 0}},
        "text": {"condition": {"test": "datum.v === null", "value": "-"}, "field": "v", "type": "quantitative", "format": ".1f"}
      }
    },
    {
      "data": {"name": "cells"},
      "transform": [{"filter": "datum.s === 'a' && datum.c === '平均（万円）'"}],
      "mark": {"type": "text", "font": "Liberation Sans", "fontSize": 15, "fontWeight": "bold", "baseline": "middle", "dx": -6, "color": "black"},
      "encoding": {
        "x": {"field": "c", "type": "nominal", "axis": null, "scale": {"domain": ["100万円未満", "100万円～500万円未満", "500万円～1000万円未満", "1000万円～2000万円未満", "2000万円～3000万円未満", "3000万円～5000万円未満", "5000万円以上", "わからない・答えたくない", "平均（万円）"], "range": [324, 1162.8], "paddingInner": 0, "paddingOuter": 0}},
        "y": {"field": "r", "type": "nominal", "axis": null, "scale": {"domain": ["全体(n=3297)"], "range": [262.5, 284.5], "paddingInner": 0, "paddingOuter": 0}},
        "text": {"field": "v", "type": "quantitative", "format": ".1f"}
      }
    },
    {
      "data": {"name": "cells"},
      "transform": [{"filter": "datum.s === 'm' && datum.c !== '平均（万円）'"}],
      "mark": {"type": "text", "font": "Liberation Sans", "fontSize": 15, "fontWeight": "bold", "baseline": "middle"},
      "encoding": {
        "x": {"field": "c", "type": "nominal", "axis": null, "scale": {"domain": ["100万円未満", "100万円～500万円未満", "500万円～1000万円未満", "1000万円～2000万円未満", "2000万円～3000万円未満", "3000万円～5000万円未満", "5000万円以上", "わからない・答えたくない", "平均（万円）"], "range": [324, 1162.8], "paddingInner": 0, "paddingOuter": 0}},
        "y": {"field": "r", "type": "nominal", "axis": null, "scale": {"domain": ["男性２０代(n=26)", "男性３０代(n=199)", "男性４０代(n=278)", "男性５０代(n=402)", "男性６０代(n=573)", "男性７０代(n=359)"], "range": [290.5, 427.3], "paddingInner": 0, "paddingOuter": 0}},
        "text": {"condition": {"test": "datum.v === null", "value": "-"}, "field": "v", "type": "quantitative", "format": ".1f"},
        "color": {"condition": {"test": "datum.h === '全体に比べて10pt以上高い'", "value": "white"}, "value": "black"}
      }
    },
    {
      "data": {"name": "cells"},
      "transform": [{"filter": "datum.s === 'm' && datum.c === '平均（万円）'"}],
      "mark": {"type": "text", "font": "Liberation Sans", "fontSize": 15, "fontWeight": "bold", "baseline": "middle", "dx": -6, "color": "black"},
      "encoding": {
        "x": {"field": "c", "type": "nominal", "axis": null, "scale": {"domain": ["100万円未満", "100万円～500万円未満", "500万円～1000万円未満", "1000万円～2000万円未満", "2000万円～3000万円未満", "3000万円～5000万円未満", "5000万円以上", "わからない・答えたくない", "平均（万円）"], "range": [324, 1162.8], "paddingInner": 0, "paddingOuter": 0}},
        "y": {"field": "r", "type": "nominal", "axis": null, "scale": {"domain": ["男性２０代(n=26)", "男性３０代(n=199)", "男性４０代(n=278)", "男性５０代(n=402)", "男性６０代(n=573)", "男性７０代(n=359)"], "range": [290.5, 427.3], "paddingInner": 0, "paddingOuter": 0}},
        "text": {"field": "v", "type": "quantitative", "format": ".1f"}
      }
    },
    {
      "data": {"name": "cells"},
      "transform": [{"filter": "datum.s === 'f' && datum.c !== '平均（万円）'"}],
      "mark": {"type": "text", "font": "Liberation Sans", "fontSize": 15, "fontWeight": "bold", "baseline": "middle"},
      "encoding": {
        "x": {"field": "c", "type": "nominal", "axis": null, "scale": {"domain": ["100万円未満", "100万円～500万円未満", "500万円～1000万円未満", "1000万円～2000万円未満", "2000万円～3000万円未満", "3000万円～5000万円未満", "5000万円以上", "わからない・答えたくない", "平均（万円）"], "range": [324, 1162.8], "paddingInner": 0, "paddingOuter": 0}},
        "y": {"field": "r", "type": "nominal", "axis": null, "scale": {"domain": ["女性２０代(n=27)", "女性３０代(n=123)", "女性４０代(n=282)", "女性５０代(n=338)", "女性６０代(n=504)", "女性７０代(n=186)"], "range": [431.5, 568.3], "paddingInner": 0, "paddingOuter": 0}},
        "text": {"condition": {"test": "datum.v === null", "value": "-"}, "field": "v", "type": "quantitative", "format": ".1f"},
        "color": {"condition": {"test": "datum.h === '全体に比べて10pt以上高い'", "value": "white"}, "value": "black"}
      }
    },
    {
      "data": {"name": "cells"},
      "transform": [{"filter": "datum.s === 'f' && datum.c === '平均（万円）'"}],
      "mark": {"type": "text", "font": "Liberation Sans", "fontSize": 15, "fontWeight": "bold", "baseline": "middle", "dx": -6, "color": "black"},
      "encoding": {
        "x": {"field": "c", "type": "nominal", "axis": null, "scale": {"domain": ["100万円未満", "100万円～500万円未満", "500万円～1000万円未満", "1000万円～2000万円未満", "2000万円～3000万円未満", "3000万円～5000万円未満", "5000万円以上", "わからない・答えたくない", "平均（万円）"], "range": [324, 1162.8], "paddingInner": 0, "paddingOuter": 0}},
        "y": {"field": "r", "type": "nominal", "axis": null, "scale": {"domain": ["女性２０代(n=27)", "女性３０代(n=123)", "女性４０代(n=282)", "女性５０代(n=338)", "女性６０代(n=504)", "女性７０代(n=186)"], "range": [431.5, 568.3], "paddingInner": 0, "paddingOuter": 0}},
        "text": {"field": "v", "type": "quantitative", "format": ".1f"}
      }
    },
    {
      "data": {"name": "cells"},
      "transform": [{"filter": "datum.s === 'a' && datum.c === '100万円未満'"}],
      "mark": {"type": "text", "font": "Noto Sans CJK JP", "fontWeight": "bold", "fontSize": 15, "align": "left", "baseline": "middle", "dx": -277, "color": "black"},
      "encoding": {
        "x": {"datum": "100万円未満", "type": "nominal", "bandPosition": 0, "axis": null},
        "y": {"field": "r", "type": "nominal", "axis": null, "scale": {"domain": ["全体(n=3297)"], "range": [262.5, 284.5], "paddingInner": 0, "paddingOuter": 0}},
        "text": {"field": "r"}
      }
    },
    {
      "data": {"name": "cells"},
      "transform": [{"filter": "datum.s === 'm' && datum.c === '100万円未満'"}],
      "mark": {"type": "text", "font": "Noto Sans CJK JP", "fontWeight": "bold", "fontSize": 15, "align": "left", "baseline": "middle", "dx": -277, "color": "black"},
      "encoding": {
        "x": {"datum": "100万円未満", "type": "nominal", "bandPosition": 0, "axis": null},
        "y": {"field": "r", "type": "nominal", "axis": null, "scale": {"domain": ["男性２０代(n=26)", "男性３０代(n=199)", "男性４０代(n=278)", "男性５０代(n=402)", "男性６０代(n=573)", "男性７０代(n=359)"], "range": [290.5, 427.3], "paddingInner": 0, "paddingOuter": 0}},
        "text": {"field": "r"}
      }
    },
    {
      "data": {"name": "cells"},
      "transform": [{"filter": "datum.s === 'f' && datum.c === '100万円未満'"}],
      "mark": {"type": "text", "font": "Noto Sans CJK JP", "fontWeight": "bold", "fontSize": 15, "align": "left", "baseline": "middle", "dx": -277, "color": "black"},
      "encoding": {
        "x": {"datum": "100万円未満", "type": "nominal", "bandPosition": 0, "axis": null},
        "y": {"field": "r", "type": "nominal", "axis": null, "scale": {"domain": ["女性２０代(n=27)", "女性３０代(n=123)", "女性４０代(n=282)", "女性５０代(n=338)", "女性６０代(n=504)", "女性７０代(n=186)"], "range": [431.5, 568.3], "paddingInner": 0, "paddingOuter": 0}},
        "text": {"field": "r"}
      }
    },
    {
      "data": {"name": "groups"},
      "mark": {"type": "text", "font": "Noto Sans CJK JP", "fontWeight": "bold", "fontSize": 15, "align": "center", "baseline": "middle", "lineBreak": "\n", "lineHeight": 19.7, "dx": -302, "color": "black"},
      "encoding": {
        "x": {"datum": "100万円未満", "type": "nominal", "bandPosition": 0, "axis": null},
        "y": {"datum": "男性６０代(n=573)", "type": "nominal", "axis": null, "scale": {"domain": ["男性２０代(n=26)", "男性３０代(n=199)", "男性４０代(n=278)", "男性５０代(n=402)", "男性６０代(n=573)", "男性７０代(n=359)"], "range": [290.5, 427.3], "paddingInner": 0, "paddingOuter": 0}},
        "text": {"field": "g"}
      }
    }
  ]
}
